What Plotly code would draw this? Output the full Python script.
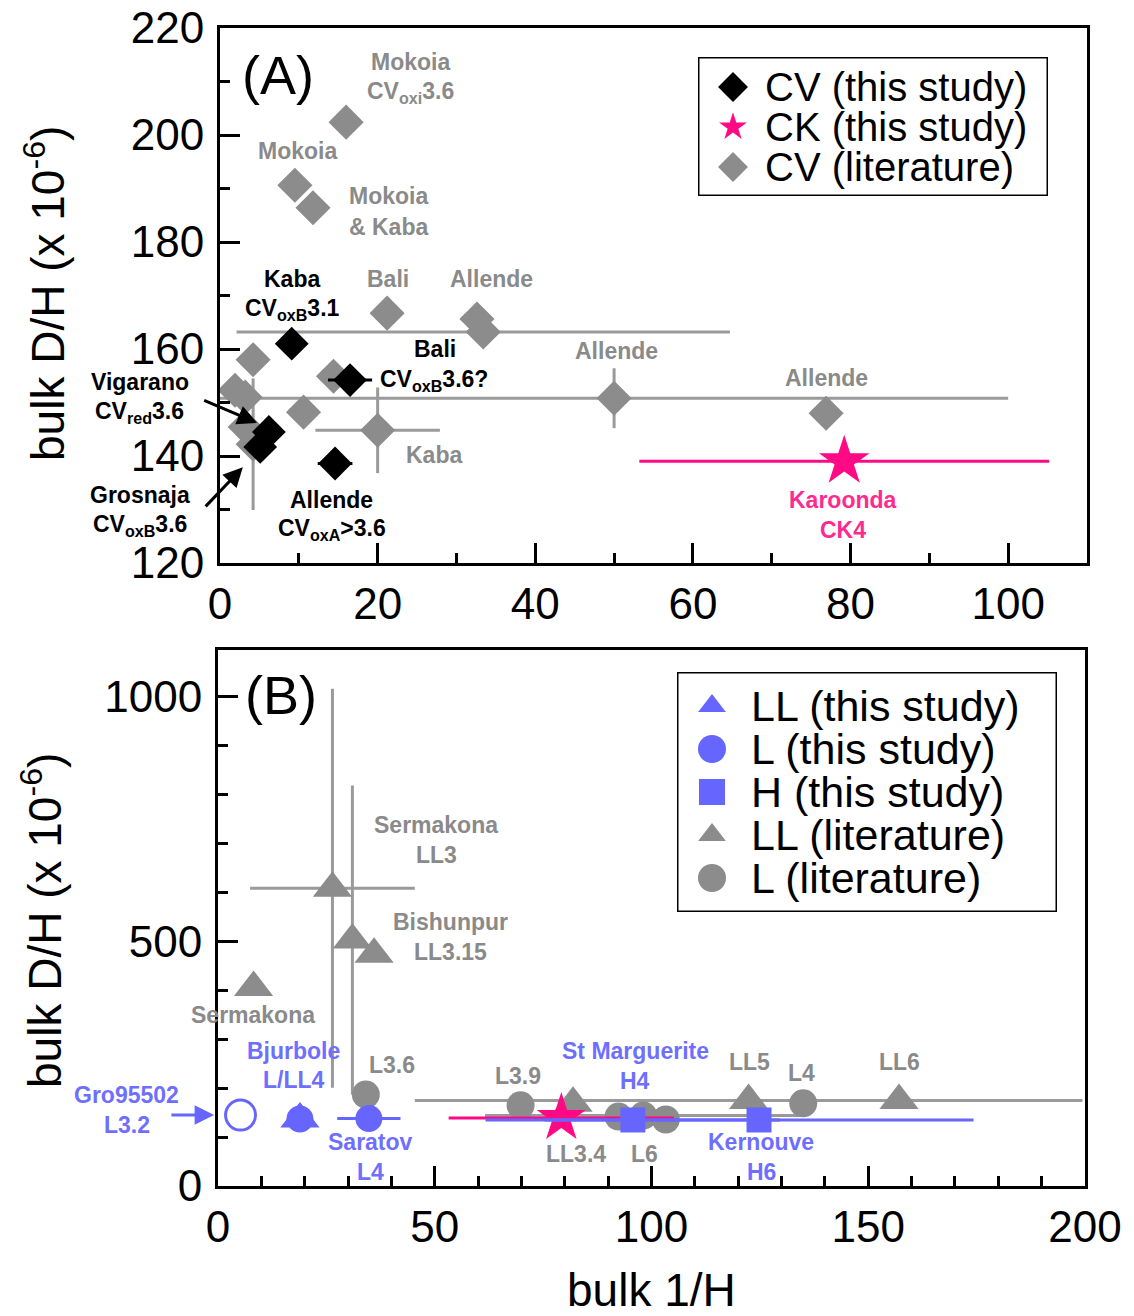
import plotly.graph_objects as go

W, H = 1134, 1316
FONT = "Liberation Sans"

GRAY = "#8c8c8c"
GRAY_BAR = "#9a9a9a"
GRAY_TXT = "#8a8a8a"
BLUE = "#6666ff"
BLUE_TXT = "#6f6fff"
PINK = "#ff0a84"
PINK_TXT = "#ff2a90"

# ---------------- Panel A : CV / CK chondrites ----------------
cv_study_names = ["Kaba", "Bali", "Vigarano", "Grosnaja", "Allende"]
cv_study_x = [9.1, 16.5, 6.2, 5.1, 14.6]
cv_study_dh = [161.0, 154.2, 144.5, 141.7, 138.6]
cv_study_xerr = [0, 2.8, 0, 0, 2.2]

ck_study_names = ["Karoonda"]
ck_study_x = [79.2]
ck_study_dh = [139.0]
ck_study_xerr = [26.0]

cv_lit_x = [16.0, 9.5, 11.8, 21.2, 32.6, 33.4, 4.2, 14.4, 1.9, 3.2,
            50.0, 10.6, 3.2, 4.2, 20.0, 76.9]
cv_lit_dh = [202.4, 190.6, 186.4, 166.7, 165.6, 163.2, 158.0, 154.9, 152.3, 151.0,
             150.8, 148.2, 145.4, 142.2, 144.8, 148.0]
cv_lit_xerr = [0, 0, 0, 0, 0, 31.3, 0, 0, 0, 0,
               50.0, 0, 0, 0, 7.9, 0]
cv_lit_dherr = [0, 0, 0, 0, 0, 0, 0, 0, 0, 0,
                5.6, 0, 0, 12.3, 8.0, 0]

a_gray_text = ["Mokoia", "CV<sub>oxi</sub>3.6", "Mokoia", "Mokoia", "&amp; Kaba",
               "Bali", "Allende", "Allende", "Allende", "Kaba"]
a_gray_tx = [24.2, 24.2, 9.8, 21.4, 21.4, 21.3, 34.5, 50.3, 76.9, 27.2]
a_gray_ty = [213.6, 208.0, 197.0, 188.6, 182.8, 173.1, 173.1, 159.6, 154.6, 140.2]

a_black_text = ["Kaba", "CV<sub>oxB</sub>3.1", "Bali", "CV<sub>oxB</sub>3.6?",
                "Allende", "CV<sub>oxA</sub>&gt;3.6", "Vigarano", "CV<sub>red</sub>3.6",
                "Grosnaja", "CV<sub>oxB</sub>3.6"]
a_black_tx = [9.1, 9.2, 27.3, 27.2, 14.1, 14.2, -10.2, -10.2, -10.2, -10.2]
a_black_ty = [173.1, 167.3, 160.0, 154.2, 131.8, 126.2, 153.8, 148.2, 132.7, 127.1]

a_pink_text = ["Karoonda", "CK4"]
a_pink_tx = [79.1, 79.1]
a_pink_ty = [131.8, 126.2]

# pointer arrows (head x, head y, tail x, tail y)
a_arrows = [(4.7, 146.2, -2.2, 150.5), (2.9, 137.9, -2.0, 130.3)]

# ---------------- Panel B : ordinary chondrites ----------------
ll_study_x = [18.9]
ll_study_dh = [137]

l_study_x = [18.9, 34.8]
l_study_dh = [137, 138]
l_study_xerr = [0, 7.3]

l_open_x = [5.2]
l_open_dh = [145]

h_study_x = [95.7, 124.8]
h_study_dh = [135, 135]
h_study_xerr = [34.0, 49.5]

ll_lit_x = [8.2, 26.4, 31.0, 36.0, 81.9, 122.4, 157.1]
ll_lit_dh = [406, 609, 503, 474, 169, 175, 175]
ll_lit_xerr = [0, 19.0, 0, 0, 0, 77.0, 0]
ll_lit_dherr = [0, 408, 316, 0, 0, 0, 0]

l_lit_x = [34.1, 69.8, 92.4, 98.1, 103.3, 135.0]
l_lit_dh = [187, 165, 142, 144, 136, 169]
l_lit_xerr = [0, 0, 0, 36.5, 0, 0]

b_gray_text = ["Sermakona", "LL3", "Bishunpur", "LL3.15", "Sermakona", "L3.6",
               "L3.9", "LL3.4", "L6", "LL5", "L4", "LL6"]
b_gray_tx = [50.3, 50.3, 53.7, 53.7, 8.1, 40.1, 69.2, 82.6, 98.3, 122.7, 134.7, 157.1]
b_gray_ty = [738, 677, 540, 478, 350, 247, 225, 65, 65, 254, 231, 254]

b_blue_text = ["Bjurbole", "L/LL4", "Saratov", "L4", "Gro95502", "L3.2",
               "St Marguerite", "H4", "Kernouve", "H6"]
b_blue_tx = [17.5, 17.5, 35.1, 35.1, -21.0, -21.0, 96.2, 96.2, 125.3, 125.3]
b_blue_ty = [276, 217, 90, 29, 186, 125, 276, 215, 90, 29]

b_arrows = [(-0.9, 145, -11.1, 145)]

# legend entries
legA_labels = ["CV (this study)", "CK (this study)", "CV (literature)"]
legA_symbols = ["diamond", "star", "diamond"]
legA_colors = ["black", PINK, GRAY]
legA_sizes = [23, 21, 23]

legB_labels = ["LL (this study)", "L (this study)", "H (this study)",
               "LL (literature)", "L (literature)"]
legB_symbols = ["triangle-up", "circle", "square", "triangle-up", "circle"]
legB_colors = [BLUE, BLUE, BLUE, GRAY, GRAY]
legB_sizes = [24, 28, 26, 24, 28]

# ---------------- subplot geometry ----------------
XA_DOM, XA_RNG = [220 / W, 1087 / W], [0, 110]
YA_DOM, YA_RNG = [1 - 563 / H, 1 - 28 / H], [120, 220]
XB_DOM, XB_RNG = [218 / W, 1085 / W], [0, 200]
YB_DOM, YB_RNG = [1 - 1186 / H, 1 - 650 / H], [0, 1096]
PANELS = {
    "A": dict(xref="x", yref="y", xdom=XA_DOM, xrng=XA_RNG, ydom=YA_DOM, yrng=YA_RNG),
    "B": dict(xref="x2", yref="y2", xdom=XB_DOM, xrng=XB_RNG, ydom=YB_DOM, yrng=YB_RNG),
}


def to_paper(p, xv, yv):
    fx = (xv - p["xrng"][0]) / (p["xrng"][1] - p["xrng"][0])
    fy = (yv - p["yrng"][0]) / (p["yrng"][1] - p["yrng"][0])
    return (p["xdom"][0] + fx * (p["xdom"][1] - p["xdom"][0]),
            p["ydom"][0] + fy * (p["ydom"][1] - p["ydom"][0]))


def inside(p, xv, yv):
    return (p["xrng"][0] <= xv <= p["xrng"][1]) and (p["yrng"][0] <= yv <= p["yrng"][1])


fig = go.Figure()


def err(arr, color):
    return dict(type="data", array=arr, color=color, thickness=3, width=0, visible=True)


# ---- panel A traces ----
fig.add_trace(go.Scatter(
    x=cv_lit_x, y=cv_lit_dh, mode="markers", xaxis="x", yaxis="y",
    marker=dict(symbol="diamond", size=27, color=GRAY),
    error_x=err(cv_lit_xerr, GRAY_BAR), error_y=err(cv_lit_dherr, GRAY_BAR),
    showlegend=False, hoverinfo="skip"))
fig.add_trace(go.Scatter(
    x=cv_study_x, y=cv_study_dh, mode="markers", xaxis="x", yaxis="y",
    text=cv_study_names,
    marker=dict(symbol="diamond", size=26, color="black"),
    error_x=err(cv_study_xerr, "black"),
    showlegend=False))
fig.add_trace(go.Scatter(
    x=ck_study_x, y=ck_study_dh, mode="markers", xaxis="x", yaxis="y",
    text=ck_study_names,
    marker=dict(symbol="star", size=38, color=PINK),
    error_x=err(ck_study_xerr, PINK),
    showlegend=False))

# ---- panel B traces ----
fig.add_trace(go.Scatter(
    x=ll_lit_x, y=ll_lit_dh, mode="markers", xaxis="x2", yaxis="y2",
    marker=dict(symbol="triangle-up", size=34, color=GRAY),
    error_x=err(ll_lit_xerr, GRAY_BAR), error_y=err(ll_lit_dherr, GRAY_BAR),
    showlegend=False, hoverinfo="skip"))
fig.add_trace(go.Scatter(
    x=l_lit_x, y=l_lit_dh, mode="markers", xaxis="x2", yaxis="y2",
    marker=dict(symbol="circle", size=28, color=GRAY),
    error_x=err(l_lit_xerr, GRAY_BAR),
    showlegend=False, hoverinfo="skip"))
fig.add_trace(go.Scatter(
    x=ck_study_x, y=ck_study_dh, mode="markers", xaxis="x2", yaxis="y2",
    marker=dict(symbol="star", size=37, color=PINK),
    error_x=err(ck_study_xerr, PINK),
    showlegend=False))
fig.add_trace(go.Scatter(
    x=h_study_x, y=h_study_dh, mode="markers", xaxis="x2", yaxis="y2",
    marker=dict(symbol="square", size=25, color=BLUE),
    error_x=err(h_study_xerr, BLUE),
    showlegend=False))
fig.add_trace(go.Scatter(
    x=l_study_x, y=l_study_dh, mode="markers", xaxis="x2", yaxis="y2",
    marker=dict(symbol="circle", size=27, color=BLUE),
    error_x=err(l_study_xerr, BLUE),
    showlegend=False))
fig.add_trace(go.Scatter(
    x=ll_study_x, y=ll_study_dh, mode="markers", xaxis="x2", yaxis="y2",
    marker=dict(symbol="triangle-up", size=34, color=BLUE),
    showlegend=False))
fig.add_trace(go.Scatter(
    x=l_open_x, y=l_open_dh, mode="markers", xaxis="x2", yaxis="y2",
    marker=dict(symbol="circle-open", size=30, color=BLUE, line=dict(width=3, color=BLUE)),
    showlegend=False))

# ---- legend keys on helper axes (axis units = pixels) ----
legA_x = 733
legA_rows = [87 + 40 * i for i in range(len(legA_labels))]
for sym, col, sz, ry in zip(legA_symbols, legA_colors, legA_sizes, legA_rows):
    fig.add_trace(go.Scatter(x=[legA_x], y=[ry], mode="markers", xaxis="x3", yaxis="y3",
                             marker=dict(symbol=sym, size=sz, color=col),
                             showlegend=False, hoverinfo="skip"))

legB_x = 712
legB_rows = [706 + 43 * i for i in range(len(legB_labels))]
for sym, col, sz, ry in zip(legB_symbols, legB_colors, legB_sizes, legB_rows):
    fig.add_trace(go.Scatter(x=[legB_x], y=[ry], mode="markers", xaxis="x4", yaxis="y4",
                             marker=dict(symbol=sym, size=sz, color=col),
                             showlegend=False, hoverinfo="skip"))

annotations = []


def labels(panel, texts, xs, ys, color):
    p = PANELS[panel]
    for t, x, y in zip(texts, xs, ys):
        if inside(p, x, y):
            pos = dict(x=x, y=y, xref=p["xref"], yref=p["yref"])
        else:
            # labels placed beside the axis are positioned on the page
            px, py = to_paper(p, x, y)
            pos = dict(x=px, y=py, xref="paper", yref="paper")
        annotations.append(dict(
            text=t, showarrow=False, xanchor="center", yanchor="middle",
            font=dict(family=FONT, size=23, color=color, weight="bold"), **pos))


def arrows(panel, items, color):
    p = PANELS[panel]
    for hx, hy, tx, ty in items:
        hxp, hyp = to_paper(p, hx, hy)
        txp, typ = to_paper(p, tx, ty)
        annotations.append(dict(
            x=hxp, y=hyp, xref="paper", yref="paper",
            ax=(txp - hxp) * W, ay=-(typ - hyp) * H, axref="pixel", ayref="pixel",
            text="", showarrow=True, arrowhead=2, arrowsize=1.3, arrowwidth=3,
            arrowcolor=color, standoff=0))


labels("A", a_gray_text, a_gray_tx, a_gray_ty, GRAY_TXT)
labels("A", a_black_text, a_black_tx, a_black_ty, "black")
labels("A", a_pink_text, a_pink_tx, a_pink_ty, PINK_TXT)
labels("B", b_gray_text, b_gray_tx, b_gray_ty, GRAY_TXT)
labels("B", b_blue_text, b_blue_tx, b_blue_ty, BLUE_TXT)
arrows("A", a_arrows, "black")
arrows("B", b_arrows, BLUE)

# legend texts
for lbl, ry in zip(legA_labels, legA_rows):
    annotations.append(dict(text=lbl, x=763, y=ry, xref="x3", yref="y3",
                            xanchor="left", yanchor="middle", showarrow=False,
                            font=dict(family=FONT, size=40, color="black")))
for lbl, ry in zip(legB_labels, legB_rows):
    annotations.append(dict(text=lbl, x=749, y=ry, xref="x4", yref="y4",
                            xanchor="left", yanchor="middle", showarrow=False,
                            font=dict(family=FONT, size=43, color="black")))

# panel tags and axis titles
annotations += [
    dict(text="(A)", x=278 / W, y=1 - 75 / H, xref="paper", yref="paper",
         showarrow=False, xanchor="center", yanchor="middle",
         font=dict(family=FONT, size=54, color="black")),
    dict(text="(B)", x=281 / W, y=1 - 695 / H, xref="paper", yref="paper",
         showarrow=False, xanchor="center", yanchor="middle",
         font=dict(family=FONT, size=54, color="black")),
    dict(text="bulk D/H (x 10<sup>-6</sup>)", x=45 / W, y=1 - 294 / H,
         xref="paper", yref="paper", showarrow=False, textangle=-90,
         xanchor="center", yanchor="middle",
         font=dict(family=FONT, size=46, color="black")),
    dict(text="bulk D/H (x 10<sup>-6</sup>)", x=42 / W, y=1 - 921 / H,
         xref="paper", yref="paper", showarrow=False, textangle=-90,
         xanchor="center", yanchor="middle",
         font=dict(family=FONT, size=46, color="black")),
    dict(text="bulk 1/H", x=651 / W, y=1 - 1290 / H, xref="paper", yref="paper",
         showarrow=False, xanchor="center", yanchor="middle",
         font=dict(family=FONT, size=46, color="black")),
]

shapes = [
    dict(type="rect", xref="x3", yref="y3", x0=698, x1=1048, y0=57, y1=196,
         line=dict(color="black", width=3), fillcolor="rgba(0,0,0,0)", layer="below"),
    dict(type="rect", xref="x4", yref="y4", x0=677, x1=1057, y0=672, y1=912,
         line=dict(color="black", width=3), fillcolor="rgba(0,0,0,0)", layer="below"),
]


def axis(domain, rng, dtick, minor_dtick, anchor, standoff, tickvals=None):
    d = dict(
        domain=domain, range=rng, anchor=anchor, automargin=False,
        showline=True, linecolor="black", linewidth=3, mirror=True,
        ticks="inside", ticklen=20, tickwidth=3, tickcolor="black",
        showgrid=False, zeroline=False, fixedrange=True,
        tickfont=dict(family=FONT, size=44, color="black"),
        ticklabelstandoff=standoff,
        minor=dict(ticks="inside", ticklen=10, tickwidth=3, tickcolor="black",
                   dtick=minor_dtick, showgrid=False),
    )
    if tickvals is not None:
        d["tickmode"] = "array"
        d["tickvals"] = tickvals
    else:
        d["dtick"] = dtick
        d["tick0"] = 0
    return d


hidden = dict(visible=False, showgrid=False, zeroline=False, fixedrange=True,
              automargin=False)

fig.update_layout(
    template="none",
    width=W, height=H,
    margin=dict(l=0, r=0, t=0, b=0, pad=0, autoexpand=False),
    paper_bgcolor="white", plot_bgcolor="white",
    font=dict(family=FONT, color="black"),
    showlegend=False,
    xaxis=axis(XA_DOM, XA_RNG, 20, 10, "y", 0),
    yaxis=axis(YA_DOM, YA_RNG, 20, 10, "x", 4),
    xaxis2=axis(XB_DOM, XB_RNG, 50, 10, "y2", 0),
    yaxis2=axis(YB_DOM, YB_RNG, None, 100, "x2", 4, tickvals=[0, 500, 1000]),
    xaxis3=dict(domain=[698 / W, 1048 / W], range=[698, 1048], anchor="y3", **hidden),
    yaxis3=dict(domain=[1 - 196 / H, 1 - 57 / H], range=[196, 57], anchor="x3", **hidden),
    xaxis4=dict(domain=[677 / W, 1057 / W], range=[677, 1057], anchor="y4", **hidden),
    yaxis4=dict(domain=[1 - 912 / H, 1 - 672 / H], range=[912, 672], anchor="x4", **hidden),
    annotations=annotations,
    shapes=shapes,
)

fig.write_html("out.html")
